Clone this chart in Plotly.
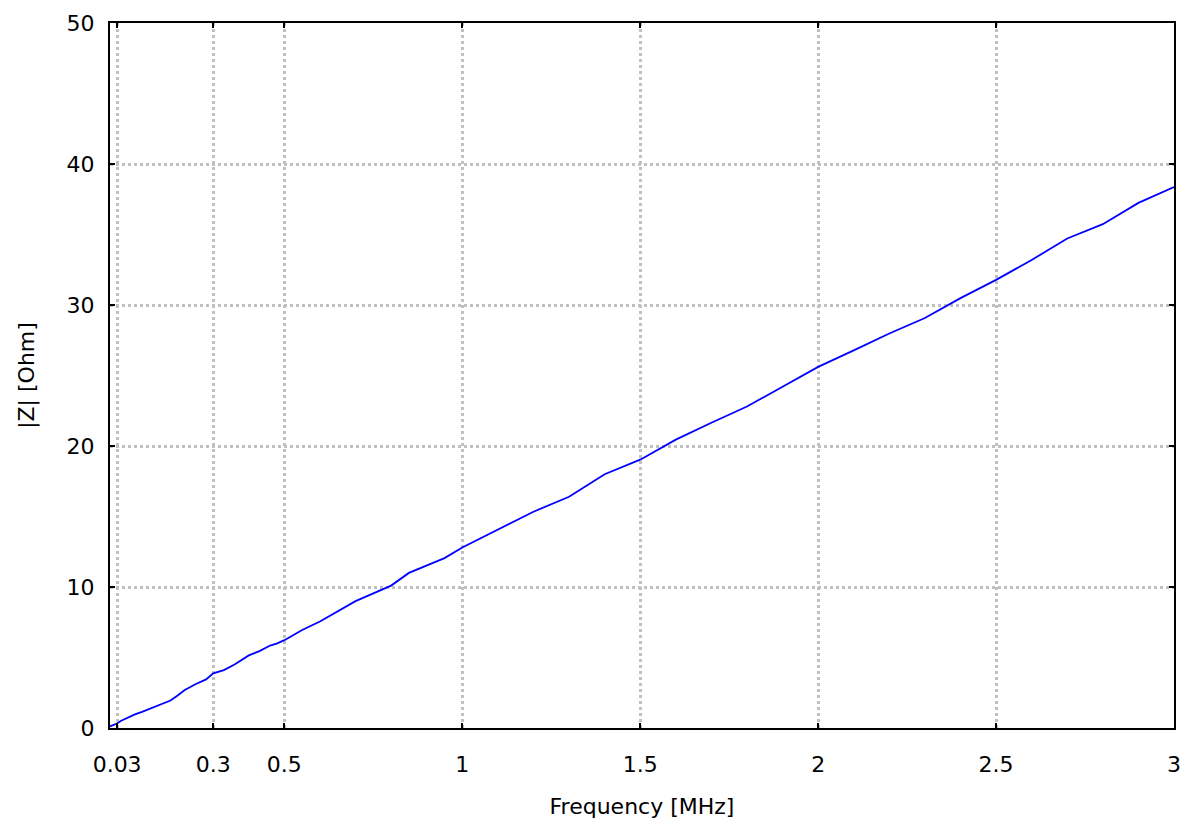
import plotly.graph_objects as go

freq_mhz = [0.01, 0.02, 0.03, 0.04, 0.06, 0.08, 0.1, 0.12, 0.15, 0.18, 0.2, 0.22,
            0.25, 0.28, 0.3, 0.33, 0.36, 0.4, 0.43, 0.46, 0.48, 0.5, 0.55, 0.6,
            0.7, 0.8, 0.85, 0.9, 0.95, 1.0, 1.1, 1.2, 1.3, 1.4, 1.5, 1.6, 1.7,
            1.8, 1.9, 2.0, 2.1, 2.2, 2.3, 2.4, 2.5, 2.6, 2.7, 2.8, 2.9, 3.0]
z_ohm = [0.12, 0.2, 0.32, 0.5, 0.75, 0.97, 1.15, 1.35, 1.6, 1.95, 2.3, 2.7,
         3.1, 3.45, 3.88, 4.11, 4.5, 5.15, 5.45, 5.85, 6.0, 6.23, 6.95, 7.55,
         9.0, 10.1, 11.0, 11.55, 12.05, 12.8, 14.07, 15.34, 16.4, 18.0, 19.03, 20.45, 21.65,
         22.8, 24.2, 25.61, 26.78, 27.98, 29.08, 30.49, 31.78, 33.19, 34.72, 35.73, 37.24, 38.36]

x_tickvals = [0.03, 0.3, 0.5, 1, 1.5, 2, 2.5, 3]
x_ticktext = ["0.03", "0.3", "0.5", "1", "1.5", "2", "2.5", "3"]
y_tickvals = [0, 10, 20, 30, 40, 50]

FONT = "DejaVu Sans"
FS = 22

fig = go.Figure()
fig.add_trace(go.Scatter(x=freq_mhz, y=z_ohm, mode="lines",
                         line=dict(color="#0000ff", width=1.8),
                         showlegend=False, hoverinfo="skip"))

axis_common = dict(
    showline=True, linecolor="black", linewidth=2, mirror="allticks",
    ticks="inside", ticklen=5, tickwidth=1.5, tickcolor="black",
    showgrid=True, gridcolor="#c0c0c0", gridwidth=2.5, griddash="dot",
    zeroline=False, ticklabeloverflow="allow", automargin=False,
    tickfont=dict(family=FONT, size=FS, color="black"),
)

fig.update_xaxes(range=[0.01, 3], tickvals=x_tickvals, ticktext=x_ticktext,
                 title=dict(text="Frequency [MHz]", font=dict(family=FONT, size=FS, color="black"),
                            standoff=22),
                 ticklabelstandoff=16, **axis_common)
fig.update_yaxes(range=[0, 50], tickvals=y_tickvals,
                 title=dict(text="|Z| [Ohm]", font=dict(family=FONT, size=FS, color="black"),
                            standoff=26),
                 ticklabelstandoff=9, **axis_common)

fig.update_layout(
    width=1184, height=817,
    margin=dict(l=102, r=18, t=15, b=97),
    paper_bgcolor="white", plot_bgcolor="white",
    font=dict(family=FONT, size=FS, color="black"),
)

fig.write_html("out.html")
